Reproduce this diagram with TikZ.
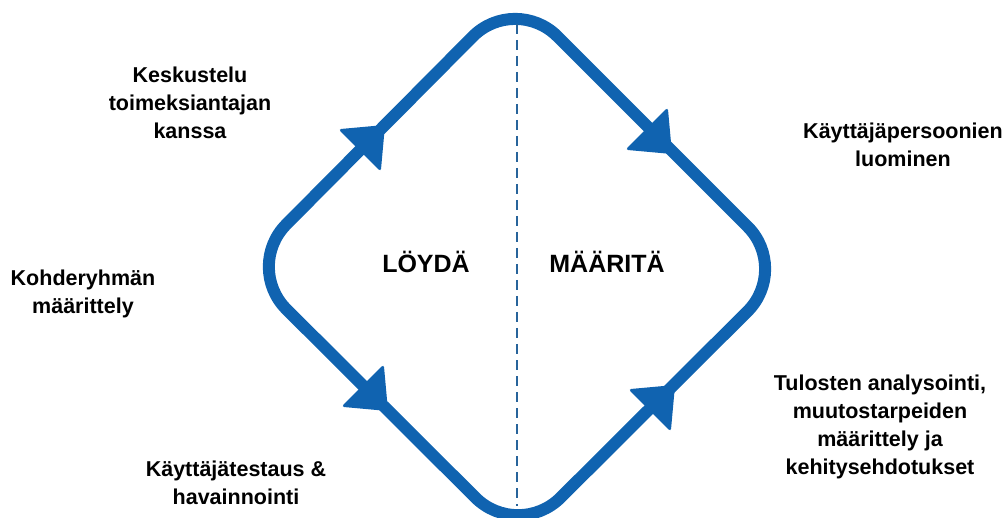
\documentclass[tikz,border=0pt]{standalone}
\usepackage{fontspec}
\setmainfont{Liberation Sans}
\usetikzlibrary{calc}
\definecolor{loopblue}{RGB}{16,99,176}
\definecolor{dashblue}{RGB}{40,100,155}
\tikzset{
  lbl/.style={font=\bfseries\fontsize{21.5}{28}\selectfont, align=center, inner sep=0pt, text=black},
  phase/.style={font=\bfseries\fontsize{25}{30}\selectfont, inner sep=0pt, text=black},
  loop/.style={draw=loopblue, line width=12pt, rounded corners=60pt},
  divider/.style={draw=dashblue, line width=2.8pt, dash pattern=on 10pt off 6pt},
  arrowhead/.pic={\fill[loopblue, rounded corners=3pt] (-2,-30) -- (34,0) -- (-2,30) -- cycle;}
}
\begin{document}
\begin{tikzpicture}[x=1pt,y=-1pt]
\useasboundingbox (0,0) rectangle (1006,518);
% corners of the loop
\coordinate (T) at (515,-6);
\coordinate (R) at (790,269);
\coordinate (B) at (518,540);
\coordinate (L) at (244,267);
\coordinate (S) at ($(L)!0.5!(T)$);
\draw[loop] (S) -- (T) -- (R) -- (B) -- (L) -- cycle;
% divider
\coordinate (dtop) at (517,24);
\coordinate (dbot) at (517,506);
\draw[divider] (dtop) -- (dbot);
% arrowheads
\pic[rotate=45] at (361,149) {arrowhead};
\pic[rotate=-45] at (648,130) {arrowhead};
\pic[rotate=-45] at (364,387) {arrowhead};
\pic[rotate=45] at (651,409) {arrowhead};
% phase labels
\node[phase] (loyda) at (426,262) {LÖYDÄ};
\node[phase] (maarita) at (607,262) {MÄÄRITÄ};
% step labels
\node[lbl] (l1) at (190,103) {Keskustelu\\toimeksiantajan\\kanssa};
\node[lbl] (l2) at (903,145) {Käyttäjäpersoonien\\luominen};
\node[lbl] (l3) at (83,294) {Kohderyhmän\\määrittely};
\node[lbl] (l4) at (236,483) {Käyttäjätestaus \&\\havainnointi};
\node[lbl] (l5) at (880,427) {Tulosten analysointi,\\muutostarpeiden\\määrittely ja\\kehitysehdotukset};
\end{tikzpicture}
\end{document}
